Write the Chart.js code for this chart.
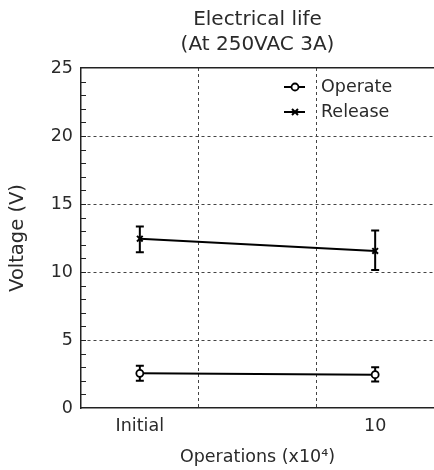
<!DOCTYPE html>
<html>
<head>
<meta charset="utf-8">
<script src="https://cdn.jsdelivr.net/npm/chart.js@4.4.0/dist/chart.umd.min.js"></script>
<style>
  html, body { margin: 0; padding: 0; background: #fff; }
</style>
</head>
<body>
<canvas id="lifeChart" width="434" height="470"></canvas>
<script>
// data
const categories = ['Initial', '10'];
const operateValues = [2.55, 2.45];
const operateLow = [2.0, 1.95];
const operateHigh = [3.1, 3.0];
const releaseValues = [12.45, 11.55];
const releaseLow = [11.45, 10.15];
const releaseHigh = [13.35, 13.05];
const yTicks = [0, 5, 10, 15, 20, 25];

const FONT = 'DejaVu Sans, Verdana, sans-serif';
const TEXT = '#2a2a2a';
const AXIS = '#222';
const GRID = '#444';
// vertical dashed lines sit halfway between the edge and each category
const xGridAt = [0.25, 0.75];

function points(values) {
    return categories.map(function(c, i) { return { x: i, y: values[i] }; });
}

var errorBars = {
    id: 'errorBars',
    beforeDatasetsDraw: function(chart) {
        var ctx = chart.ctx, xs = chart.scales.x, ys = chart.scales.y;
        ctx.save();
        ctx.strokeStyle = '#000';
        ctx.lineWidth = 2;
        chart.data.datasets.forEach(function(ds) {
            categories.forEach(function(c, i) {
                var px = xs.getPixelForValue(i);
                var top = ys.getPixelForValue(ds.errHigh[i]);
                var bot = ys.getPixelForValue(ds.errLow[i]);
                ctx.beginPath();
                ctx.moveTo(px, top); ctx.lineTo(px, bot);
                ctx.moveTo(px - 4, top); ctx.lineTo(px + 4, top);
                ctx.moveTo(px - 4, bot); ctx.lineTo(px + 4, bot);
                ctx.stroke();
            });
        });
        ctx.restore();
    }
};

// small inward ticks every 1 V on the left axis
var minorTicks = {
    id: 'minorTicks',
    afterDraw: function(chart) {
        var ctx = chart.ctx, ys = chart.scales.y, left = chart.chartArea.left;
        ctx.save();
        ctx.strokeStyle = AXIS;
        ctx.lineWidth = 1;
        for (var v = ys.min + 1; v < ys.max; v++) {
            var py = Math.round(ys.getPixelForValue(v)) + 0.5;
            ctx.beginPath();
            ctx.moveTo(left, py); ctx.lineTo(left + 5, py);
            ctx.stroke();
        }
        ctx.restore();
    }
};

var lineLegend = {
    id: 'lineLegend',
    afterDraw: function(chart) {
        var ctx = chart.ctx, area = chart.chartArea;
        var x0 = area.right - 150, y0 = area.top + 19;
        ctx.save();
        ctx.font = '17.5px ' + FONT;
        ctx.textBaseline = 'middle';
        chart.data.datasets.forEach(function(ds, k) {
            var y = y0 + k * 25;
            ctx.strokeStyle = '#000';
            ctx.lineWidth = 2;
            ctx.beginPath();
            ctx.moveTo(x0, y); ctx.lineTo(x0 + 21, y);
            ctx.stroke();
            var mx = x0 + 11;
            ctx.lineWidth = ds.pointBorderWidth;
            if (ds.pointStyle === 'circle') {
                ctx.fillStyle = '#fff';
                ctx.beginPath();
                ctx.arc(mx, y, ds.pointRadius, 0, Math.PI * 2);
                ctx.fill(); ctx.stroke();
            } else {
                var r = ds.pointRadius * 0.75;
                ctx.beginPath();
                ctx.moveTo(mx - r, y - r); ctx.lineTo(mx + r, y + r);
                ctx.moveTo(mx - r, y + r); ctx.lineTo(mx + r, y - r);
                ctx.stroke();
            }
            ctx.fillStyle = TEXT;
            ctx.fillText(ds.label, x0 + 37, y);
        });
        ctx.restore();
    }
};

var chart = new Chart(document.getElementById('lifeChart'), {
    type: 'line',
    data: {
        datasets: [{
            label: 'Operate',
            data: points(operateValues),
            errLow: operateLow,
            errHigh: operateHigh,
            borderColor: '#000',
            borderWidth: 2,
            pointStyle: 'circle',
            pointRadius: 3.5,
            pointBackgroundColor: '#fff',
            pointBorderColor: '#000',
            pointBorderWidth: 1.8
        }, {
            label: 'Release',
            data: points(releaseValues),
            errLow: releaseLow,
            errHigh: releaseHigh,
            borderColor: '#000',
            borderWidth: 2,
            pointStyle: 'crossRot',
            pointRadius: 4,
            pointBackgroundColor: '#000',
            pointBorderColor: '#000',
            pointBorderWidth: 2
        }]
    },
    options: {
        responsive: false,
        animation: false,
        layout: { padding: 0, autoPadding: false },
        plugins: {
            legend: { display: false },
            tooltip: { enabled: false },
            title: {
                display: true,
                fullSize: false,
                text: ['Electrical life', '(At 250VAC 3A)'],
                color: TEXT,
                font: { family: FONT, size: 20, weight: 'normal', lineHeight: 1.25 },
                padding: { top: 7, bottom: 11 }
            }
        },
        scales: {
            x: {
                type: 'linear',
                position: 'bottom',
                min: -0.25,
                max: 1.25,
                afterBuildTicks: function(s) {
                    s.ticks = [-0.25, 0, 0.25, 0.75, 1, 1.25].map(function(v) { return { value: v }; });
                },
                afterFit: function(s) {
                    s.height = 62;
                    s.paddingLeft = 0;
                    s.paddingRight = 0;
                },
                ticks: {
                    autoSkip: false,
                    maxRotation: 0,
                    padding: 8,
                    color: TEXT,
                    font: { family: FONT, size: 17.5 },
                    callback: function(v) { return Number.isInteger(v) ? categories[v] : ''; }
                },
                grid: {
                    drawTicks: false,
                    lineWidth: 1,
                    color: function(c) {
                        return c.tick && xGridAt.indexOf(c.tick.value) >= 0 ? GRID : 'rgba(0,0,0,0)';
                    }
                },
                border: { color: AXIS, width: 1.5, dash: [3, 3] },
                title: {
                    display: true,
                    text: 'Operations (x10\u2074)',
                    color: TEXT,
                    font: { family: FONT, size: 17.5 },
                    padding: { top: 0, bottom: 2 }
                }
            },
            xTop: {
                type: 'linear',
                position: 'top',
                min: -0.25,
                max: 1.25,
                afterFit: function(s) {
                    s.height = 0;
                    s.paddingLeft = 0;
                    s.paddingRight = 0;
                },
                ticks: { display: false },
                grid: { display: false, drawTicks: false },
                border: { display: true, color: AXIS, width: 1.5 }
            },
            y: {
                min: 0,
                max: 25,
                afterBuildTicks: function(s) {
                    s.ticks = yTicks.map(function(v) { return { value: v }; });
                },
                afterFit: function(s) { s.width = 81; },
                ticks: {
                    padding: 8,
                    color: TEXT,
                    font: { family: FONT, size: 17.5 }
                },
                grid: {
                    drawTicks: false,
                    lineWidth: 1,
                    color: function(c) {
                        var v = c.tick ? c.tick.value : 0;
                        return v > 0 && v < 25 ? GRID : 'rgba(0,0,0,0)';
                    }
                },
                border: { color: AXIS, width: 1.5, dash: [3, 3] },
                title: {
                    display: true,
                    text: 'Voltage (V)',
                    color: TEXT,
                    font: { family: FONT, size: 19.5 },
                    padding: { top: 6, bottom: 0 }
                }
            }
        }
    },
    plugins: [errorBars, minorTicks, lineLegend]
});
</script>
</body>
</html>
